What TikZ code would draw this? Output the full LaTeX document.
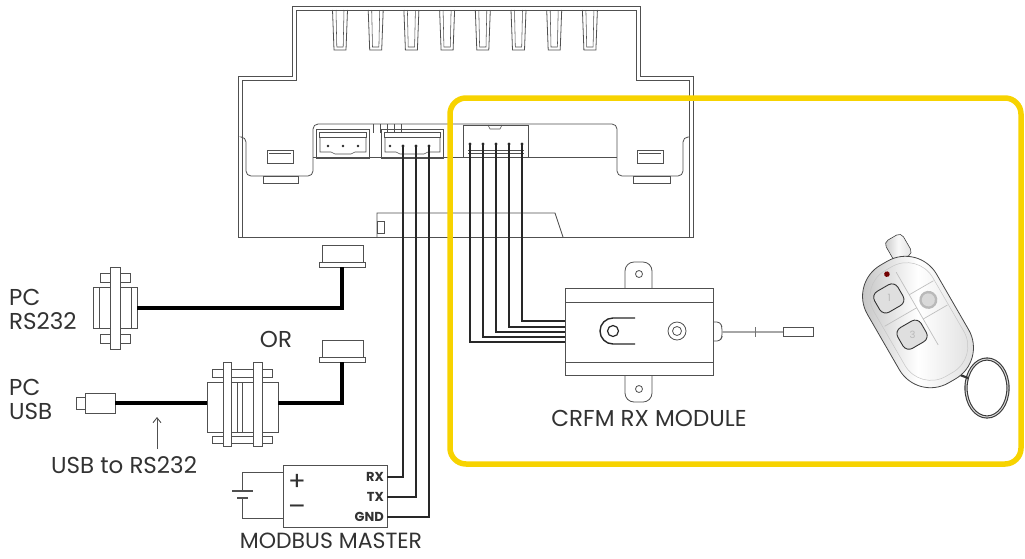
\documentclass[tikz,border=0pt]{standalone}
\usepackage{fontspec}
\setmainfont{Poppins}
\usetikzlibrary{calc,arrows.meta}
\definecolor{hilite}{RGB}{247,211,0}
\definecolor{ink}{RGB}{80,80,80}
\definecolor{wirec}{RGB}{40,40,40}
\definecolor{labelc}{RGB}{50,50,50}
\begin{document}
\begin{tikzpicture}[x=1pt,y=-1pt,
  part/.style={draw=ink, line width=0.8pt},
  thin part/.style={draw=ink, line width=0.55pt},
  wire/.style={draw=wirec, line width=1.2pt},
  cable/.style={draw=black, line width=4.5pt},
  lbl/.style={text=labelc, font=\fontsize{23}{23}\selectfont, inner sep=0pt},
  pinlbl/.style={text=labelc, font=\bfseries\fontsize{13}{13}\selectfont, inner sep=0pt, anchor=east},
]
\useasboundingbox (0,0) rectangle (1025,558);

% ---------------- controller housing ----------------
\foreach \i in {0,...,7}{
  \pgfmathsetmacro\cx{340+35.7*\i}
  \draw[part] (\cx-7.5,10) -- (\cx-6,50) -- (\cx+6,50) -- (\cx+7.5,10);
  \draw[thin part] (\cx-4,10) -- (\cx-3.2,47) -- (\cx+3.2,47) -- (\cx+4,10);
}
\draw[part] (238,237) -- (238,76) -- (292,76) -- (292,6) -- (640,6) -- (640,76) -- (693,76) -- (693,237) -- cycle;
\draw[thin part] (242,237) -- (242,80) -- (296,80) -- (296,10) -- (636,10) -- (636,80) -- (689,80) -- (689,237);
% side recesses with clip slots
\draw[part, rounded corners=5] (242,137) -- (246,137) -- (246,176) -- (313,176) -- (313,124)
  -- (617,124) -- (617,176) -- (683,176) -- (683,137) -- (689,137);
\draw[thin part] (263,176) rectangle (298,183);
\draw[thin part] (633,176) rectangle (670,183);
\draw[part] (267,150) rectangle (293,163);
\draw[thin part] (269,153) -- (291,153);
\draw[part] (637,150) rectangle (663,163);
\draw[thin part] (639,153) -- (661,153);
\draw[thin part] (313,157) -- (617,157);
% lower step of the housing
\draw[part] (377,237) -- (377,213) -- (555,213) -- (563,237);
\draw[thin part] (377,221) rectangle (384,233);

% 3-pin terminal
\draw[part] (316,129) rectangle (369,158);
\draw[thin part] (319,132) rectangle (366,137);
\draw[thin part] (320,138) -- (320,152) -- (331,152) -- (335,154) -- (351,154) -- (355,152) -- (366,152) -- (366,138);
\foreach \x in {328,343,358} \fill[wirec] (\x,146) circle (1.4);
% 4-pin terminal
\draw[part] (381,129) rectangle (443,158);
\draw[thin part] (384,132) rectangle (440,137);
\draw[thin part] (385,138) -- (385,152) -- (396,152) -- (400,154) -- (424,154) -- (428,152) -- (440,152) -- (440,138);
\fill[wirec] (390,146) circle (1.4);
\foreach \x in {373,380,387,394,401} \draw[thin part] (\x,124) -- (\x,133);
% 5-pin header
\draw[part] (463,125) rectangle (528,157);
\draw[thin part] (488,125) -- (490,129) -- (500,129) -- (502,125);
\draw[thin part] (468,150) -- (524,150);
\draw[thin part] (468,153) -- (524,153);

% pin coordinates
\coordinate (tA) at (403,146);
\coordinate (tB) at (416,146);
\coordinate (tC) at (429,146);
\foreach \n/\x in {1/470,2/483,3/496,4/509,5/522}{
  \coordinate (h\n) at (\x,144);
  \fill[wirec] (h\n) circle (1.6);
}
\foreach \n in {A,B,C} \fill[wirec] (t\n) circle (1.6);

% ---------------- CRFM RX module ----------------
\draw[part, rounded corners=9] (625,290) -- (625,262) -- (652,262) -- (652,290);
\draw[part] (639,274) circle (3.5);
\draw[part, rounded corners=9] (625,373) -- (625,402) -- (652,402) -- (652,373);
\draw[part] (639,389) circle (3.5);
\node[part, fill=white, minimum width=148pt, minimum height=87pt, inner sep=0pt] (rxmod) at (639,331.5) {};
\draw[thin part] (565,302) -- (713,302);
\draw[thin part] (565,362) -- (713,362);
\draw[line width=1.4pt, wirec] (635,318) -- (613,318) arc[start angle=270, end angle=90, radius=13] -- (635,344);
\draw[line width=1.2pt, wirec] (613,331) circle (5.5);
\draw[part] (677,331) circle (9);
\draw[part] (677,331) circle (4.5);
% antenna
\draw[part, rounded corners=3] (713,322) -- (720,322) -- (722,327) -- (722,337) -- (720,341) -- (713,341);
\draw[gray!70, line width=2.2pt] (722,332) -- (783,332);
\draw[gray!90!black, line width=0.8pt] (755,327) -- (755,337);
\draw[part] (783,327.5) rectangle (813,336.5);
\node[lbl] (crfm) at (649,418) {CRFM RX MODULE};

% module inputs
\foreach \n/\y in {1/342,2/337,3/332,4/327,5/321} \coordinate (m\n) at (565,\y);
\foreach \n in {1,...,5} \draw[wire] (h\n) |- (m\n);

% ---------------- MODBUS master ----------------
\node[part, minimum width=104pt, minimum height=62pt, inner sep=0pt] (mb) at (335,496) {};
\node[pinlbl] (rxl) at (384,477) {RX};
\node[pinlbl] (txl) at (384,497) {TX};
\node[pinlbl] (gndl) at (384,517) {GND};
\node[text=labelc, font=\fontsize{26}{26}\selectfont, inner sep=0pt] (plus) at (297,482) {+};
\node[text=labelc, font=\fontsize{26}{26}\selectfont, inner sep=0pt] (minus) at (297,510) {\textendash};
\coordinate (mbrx) at (387,477);
\coordinate (mbtx) at (387,497);
\coordinate (mbgnd) at (387,517);
\draw[wire] (tA) |- (mbrx);
\draw[wire] (tB) |- (mbtx);
\draw[wire] (tC) |- (mbgnd);
% supply battery
\coordinate (bp) at (283,472);
\coordinate (bn) at (283,518);
\draw[part] (bp) -| (242,491);
\draw[part] (bn) -| (242,498);
\draw[part, line width=1.1pt] (232,491) -- (253,491);
\draw[part, line width=1.1pt] (237,498) -- (248,498);
\node[lbl, font=\fontsize{22}{22}\selectfont] (mm) at (331,541) {MODBUS MASTER};

% ---------------- PC links ----------------
% housing-side plugs
\foreach \y in {245,340}{
  \draw[part] (322,\y) rectangle (363,\y+17);
  \draw[part] (319,\y+17) rectangle (365,\y+22);
}
\coordinate (plugA) at (342,267);
\coordinate (plugB) at (342,362);
% DB9 at the PC RS232 port
\draw[part] (100,273) rectangle (130,282);
\draw[part] (100,334) rectangle (130,343);
\draw[part, fill=white] (93,287) rectangle (137,328);
\draw[thin part] (99,287) -- (99,328);
\draw[thin part] (131,287) -- (131,328);
\draw[part, fill=white] (110,267) rectangle (120,349);
\coordinate (dbA) at (137,308);
\draw[cable] (plugA) |- (dbA);
% USB to RS232 adapter
\draw[part] (212,369) rectangle (272,377);
\draw[part] (212,436) rectangle (272,443);
\draw[part, fill=white] (207,382) rectangle (278,432);
\draw[thin part] (237,382) -- (237,432);
\draw[thin part] (242,382) -- (242,432);
\draw[part, fill=white] (223,362) rectangle (231,446);
\draw[part, fill=white] (253,362) rectangle (262,446);
\coordinate (adR) at (278,403);
\coordinate (adL) at (207,403);
\draw[cable] (plugB) |- (adR);
% USB plug
\draw[part] (76,397) rectangle (85,409);
\draw[part] (85,393) rectangle (115,413);
\coordinate (usbp) at (115,403);
\draw[cable] (usbp) -- (adL);
\coordinate (arrA) at (157,449);
\coordinate (arrB) at (157,417);
\draw[ink, line width=0.9pt, -{Straight Barb[length=5pt,width=8pt]}] (arrA) -- (arrB);

\node[lbl, anchor=west] (pc1) at (9,297) {PC};
\node[lbl, anchor=west] (rs) at (9,321) {RS232};
\node[lbl] (or) at (276,339) {OR};
\node[lbl, anchor=west] (pc2) at (9,387) {PC};
\node[lbl, anchor=west] (usb) at (9,411) {USB};
\node[lbl] (u2r) at (124,465) {USB to RS232};

% ---------------- remote key fob ----------------
\draw[gray!45!black, line width=3.2pt] (987,388) ellipse [x radius=21, y radius=29];
\draw[gray!30, line width=1pt] (987,388) ellipse [x radius=21, y radius=29];
\draw[gray!40!black, line width=2.2pt] (955,373) -- (968,378);
\begin{scope}[shift={(918,322)}, rotate=30]
  \path[draw=gray!50!black, line width=0.6pt, left color=gray!45, right color=gray!25, middle color=gray!5, rounded corners=5]
    (10,-86) rectangle (30,-62);
  \path[draw=gray!55!black, line width=0.8pt, left color=gray!55, right color=gray!30, middle color=white, rounded corners=36]
    (-40,-68) rectangle (40,68);
  \path[draw=gray!45, line width=0.5pt, rounded corners=30] (-33,-61) rectangle (35,61);
  \draw[gray!50, line width=0.7pt] (6,-54) -- (6,30);
  \draw[gray!50, line width=0.7pt] (6,-28) -- (34,-28);
  \draw[gray!50, line width=0.7pt] (6,0) -- (34,0);
  \draw[gray!50, line width=0.7pt] (-31,-13) -- (6,-13);
  \fill[red!45!black] (-3,-57) circle (2.8);
  \path[draw=gray!40!black, line width=0.9pt, fill=gray!25, rounded corners=7] (-27,-47) rectangle (0,-23);
  \node[text=gray!55, font=\fontsize{10}{10}\selectfont, inner sep=0pt] (b1) at (-13,-35) {1};
  \path[draw=gray!40!black, line width=0.9pt, fill=gray!25, rounded corners=7] (-25,-4) rectangle (2,20);
  \node[text=gray!55, font=\fontsize{10}{10}\selectfont, inner sep=0pt] (b3) at (-11,8) {3};
  \fill[gray!55] (20,-14) circle (9);
  \fill[gray!30] (20,-14) circle (6.5);
\end{scope}

% ---------------- highlight frame ----------------
\draw[hilite, line width=5.5pt, rounded corners=16] (450,98) rectangle (1021,464);
\end{tikzpicture}
\end{document}
